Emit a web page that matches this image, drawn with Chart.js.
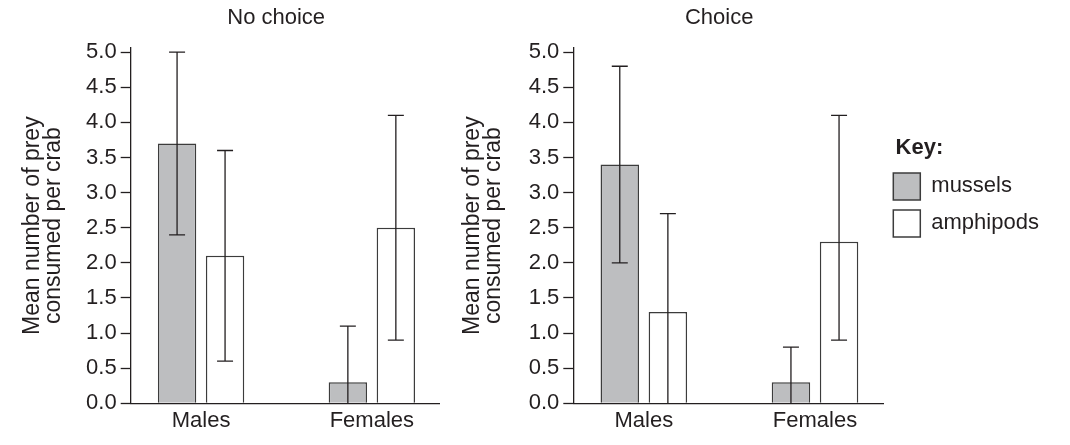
<!DOCTYPE html>
<html>
<head>
<meta charset="utf-8">
<script src="https://cdn.jsdelivr.net/npm/chart.js@4/dist/chart.umd.min.js"></script>
<style>
  html, body { margin: 0; padding: 0; background: #ffffff; }
  #wrap { position: relative; width: 1070px; height: 445px; overflow: hidden; }
  #c1 { position: absolute; left: 0; top: 0; }
  #c2 { position: absolute; left: 440px; top: 0; }
</style>
</head>
<body>
<div id="wrap">
  <canvas id="c1" width="440" height="445"></canvas>
  <canvas id="c2" width="630" height="445"></canvas>
</div>
<script>
// ---- data ----
const categories = ['Males', 'Females'];
const seriesNames = ['mussels', 'amphipods'];
const panelTitles = ['No choice', 'Choice'];
const yAxisTitle = ['Mean number of prey', 'consumed per crab'];
const legendTitle = 'Key:';

const noChoiceMussels = [3.7, 0.3];
const noChoiceMusselsLow = [2.4, -0.5];
const noChoiceMusselsHigh = [5.0, 1.1];
const noChoiceAmphipods = [2.1, 2.5];
const noChoiceAmphipodsLow = [0.6, 0.9];
const noChoiceAmphipodsHigh = [3.6, 4.1];

const choiceMussels = [3.4, 0.3];
const choiceMusselsLow = [2.0, -0.2];
const choiceMusselsHigh = [4.8, 0.8];
const choiceAmphipods = [1.3, 2.3];
const choiceAmphipodsLow = [-0.1, 0.9];
const choiceAmphipodsHigh = [2.7, 4.1];

// ---- styles ----
const INK = '#231f20';
const MUSSEL_FILL = '#bdbec0';
const AMPH_FILL = '#ffffff';
const BAR_BORDER = '#3c3c3c';
const FONT = "'Liberation Sans', Arial, Helvetica, sans-serif";
const LABEL_SIZE = 22;
const LEGEND_BOX = 27;
const LEGEND_PAD = 10;

Chart.defaults.font.family = FONT;
Chart.defaults.color = INK;

// legend width (to place the legend's left edge where the plot must end)
const mctx = document.createElement('canvas').getContext('2d');
mctx.font = LABEL_SIZE + 'px ' + FONT;
const maxLabelW = Math.max(...seriesNames.map(s => mctx.measureText(s).width));
const legendW = LEGEND_PAD + LEGEND_BOX + LABEL_SIZE / 2 + maxLabelW + 10;
const plotRight2 = 443.3; // in canvas-2 coordinates
const padRight2 = 630 - plotRight2 - legendW;

const errorBarPlugin = {
  id: 'errorBars',
  afterDatasetsDraw(chart) {
    const ctx = chart.ctx;
    const yScale = chart.scales.y;
    ctx.save();
    ctx.strokeStyle = INK;
    ctx.lineWidth = 1.3;
    chart.data.datasets.forEach((ds, di) => {
      const meta = chart.getDatasetMeta(di);
      meta.data.forEach((el, i) => {
        const lo = ds.errLow[i], hi = ds.errHigh[i];
        const x = el.x;
        const yLo = yScale.getPixelForValue(Math.max(lo, 0));
        const yHi = yScale.getPixelForValue(hi);
        const cap = 8;
        ctx.beginPath();
        ctx.moveTo(x, yLo);
        ctx.lineTo(x, yHi);
        ctx.moveTo(x - cap, yHi);
        ctx.lineTo(x + cap, yHi);
        if (lo > 0) {
          ctx.moveTo(x - cap, yLo);
          ctx.lineTo(x + cap, yLo);
        }
        ctx.stroke();
      });
    });
    ctx.restore();
  }
};

function makeDataset(label, values, low, high, fill) {
  return {
    label: label,
    data: values.map((v, i) => ({ x: i + 1, y: v })),
    errLow: low,
    errHigh: high,
    backgroundColor: fill,
    borderColor: BAR_BORDER,
    borderWidth: 1.5,
    categoryPercentage: 0.562,
    barPercentage: 0.8
  };
}

function makeConfig(title, mussels, mLow, mHigh, amph, aLow, aHigh, yWidth, withLegend) {
  return {
    type: 'bar',
    data: {
      datasets: [
        makeDataset(seriesNames[0], mussels, mLow, mHigh, MUSSEL_FILL),
        makeDataset(seriesNames[1], amph, aLow, aHigh, AMPH_FILL)
      ]
    },
    plugins: [errorBarPlugin],
    options: {
      responsive: false,
      animation: false,
      events: [],
      layout: { padding: { left: 0, right: withLegend ? padRight2 : 0, top: 0, bottom: 0 } },
      plugins: {
        title: {
          display: true,
          text: title + '   ',
          fullSize: false,
          color: INK,
          font: { size: 22, weight: 'normal' },
          padding: { top: 5, bottom: 16.6 }
        },
        legend: withLegend ? {
          display: true,
          position: 'right',
          align: 'start',
          maxWidth: 400,
          title: {
            display: true,
            text: '  ' + legendTitle,
            position: 'start',
            color: INK,
            font: { size: 22, weight: 'bold' },
            padding: { top: 136.5, bottom: 0 }
          },
          labels: {
            boxWidth: LEGEND_BOX,
            boxHeight: LEGEND_BOX,
            padding: LEGEND_PAD,
            color: INK,
            font: { size: LABEL_SIZE }
          }
        } : { display: false },
        tooltip: { enabled: false }
      },
      scales: {
        x: {
          type: 'linear',
          offset: false,
          min: 0.588,
          max: 2.399,
          afterBuildTicks(axis) {
            axis.ticks = categories.map((c, i) => ({ value: i + 1 }));
          },
          afterFit(axis) { axis.height = 41.7; },
          grid: { display: false, drawTicks: false, offset: false },
          border: { display: true, color: INK, width: 1.3 },
          ticks: {
            autoSkip: false,
            maxRotation: 0,
            padding: 4,
            color: INK,
            font: { size: 22 },
            callback: (v) => categories[Math.round(v) - 1]
          }
        },
        y: {
          type: 'linear',
          min: 0,
          max: 5.06,
          afterFit(axis) { axis.width = yWidth; },
          grid: { display: true, drawOnChartArea: false, drawTicks: true, tickLength: 10, tickColor: INK, tickWidth: 1.3 },
          border: { display: true, color: INK, width: 1.3 },
          ticks: {
            stepSize: 0.5,
            includeBounds: false,
            padding: 4,
            color: INK,
            font: { size: 22 },
            callback: (v) => Number(v).toFixed(1)
          },
          title: {
            display: true,
            text: yAxisTitle,
            color: INK,
            font: { size: 23, lineHeight: 0.913 },
            padding: { top: 22, bottom: 0 }
          }
        }
      }
    }
  };
}

new Chart(document.getElementById('c1'), makeConfig(panelTitles[0],
  noChoiceMussels, noChoiceMusselsLow, noChoiceMusselsHigh,
  noChoiceAmphipods, noChoiceAmphipodsLow, noChoiceAmphipodsHigh, 130.7, false));

new Chart(document.getElementById('c2'), makeConfig(panelTitles[1],
  choiceMussels, choiceMusselsLow, choiceMusselsHigh,
  choiceAmphipods, choiceAmphipodsLow, choiceAmphipodsHigh, 133.3, true));
</script>
</body>
</html>
